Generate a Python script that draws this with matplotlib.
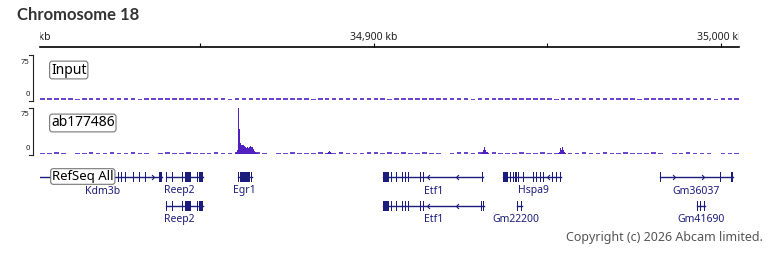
import matplotlib.pyplot as plt
from matplotlib.patches import Rectangle
import numpy as np

plt.rcParams['font.family'] = ['Noto Sans', 'DejaVu Sans']

# view window (kb) and ruler ticks
view_kb = (34803.9, 35005.3)
tick_kb = [34800, 34850, 34900, 34950, 35000]
label_ticks_kb = [34800, 34900, 35000]

# background signal, 2 kb bins from 34804 kb
bg_start_kb = 34804.0
bg_bin_kb = 2.0
input_bg = [3, 3, 4, 3, 3, 2, 3, 4, 3, 3, 3, 4, 3, 3, 2, 3, 3, 4, 3, 3,
            4, 3, 3, 3, 4, 3, 3, 2, 3, 3, 3, 4, 3, 3, 3, 4, 3, 3, 3, 2,
            3, 3, 4, 3, 3, 3, 3, 4, 3, 3, 2, 3, 3, 4, 3, 3, 3, 3, 4, 3,
            3, 3, 2, 3, 4, 3, 3, 3, 3, 4, 3, 3, 3, 3, 2, 3, 3, 4, 3, 3,
            3, 4, 3, 3, 3, 3, 2, 3, 3, 4, 3, 3, 3, 4, 3, 3, 3, 2, 3, 3, 3]
ab_bg = [2, 2, 3, 2, 0, 2, 2, 3, 2, 2, 3, 2, 2, 3, 2, 2, 0, 2, 3, 2,
         2, 3, 2, 2, 2, 3, 2, 2, 3, 2, 2, 3, 2, 0, 2, 2, 3, 2, 2, 2,
         3, 2, 2, 3, 2, 2, 2, 3, 3, 2, 3, 2, 3, 2, 2, 3, 2, 2, 0, 2,
         3, 3, 2, 3, 2, 3, 2, 2, 2, 3, 2, 2, 3, 2, 2, 0, 2, 2, 3, 2,
         2, 3, 2, 2, 3, 2, 2, 2, 3, 2, 0, 2, 2, 3, 2, 2, 2, 0, 2, 2, 2]

# ab177486 peaks, 0.29 kb bins
peak_bin_kb = 0.29
peak_starts_kb = [34860.1, 34886.6, 34931.0, 34953.2]
peak_values = [
    [2, 3, 6, 75, 40, 18, 15, 14, 15, 13, 11, 10, 11, 9, 12, 13, 12, 11, 8, 5, 3, 2, 2],
    [2, 3, 5, 3, 2],
    [2, 3, 6, 12, 7, 4, 3, 2],
    [2, 4, 9, 6, 11, 7, 4, 2],
]

# RefSeq genes
gene_names = ['Kdm3b', 'Reep2', 'Egr1', 'Etf1', 'Hspa9', 'Gm36037',
              'Reep2', 'Etf1', 'Gm22200', 'Gm41690']
gene_rows = [0, 0, 0, 0, 0, 0, 1, 1, 1, 1]
gene_starts = [34790.0, 34840.2, 34860.95, 34902.7, 34937.3, 34982.6,
               34840.2, 34902.7, 34941.3, 34993.3]
gene_ends = [34839.0, 34850.9, 34865.0, 34931.6, 34954.1, 35003.6,
             34850.9, 34931.8, 34942.8, 34995.5]
gene_strands = ['+', '+', '+', '-', '-', '+', '+', '-', '-', '+']
reep2_exons = [(34840.2, 34840.5), (34841.9, 34842.2), (34844.9, 34845.2),
               (34845.7, 34847.3), (34849.0, 34849.3), (34849.7, 34850.9)]
etf1_exons = [(34902.7, 34904.4), (34905.0, 34905.3), (34906.5, 34906.8),
              (34908.2, 34908.5), (34909.0, 34909.3), (34909.9, 34910.2),
              (34913.4, 34913.7), (34914.2, 34914.5)]
gene_exons = [
    [(34826.4, 34826.7), (34827.2, 34827.5), (34828.4, 34828.7), (34830.7, 34831.0),
     (34832.4, 34832.7), (34834.1, 34834.4), (34838.2, 34839.0)],
    reep2_exons,
    [(34860.95, 34861.25), (34861.6, 34864.4), (34864.7, 34865.0)],
    etf1_exons + [(34931.3, 34931.6)],
    [(34937.3, 34938.8), (34939.3, 34939.6), (34940.1, 34940.4), (34940.9, 34941.2),
     (34941.6, 34941.9), (34943.0, 34943.3), (34945.9, 34946.2), (34946.8, 34947.1),
     (34948.0, 34948.3), (34948.8, 34949.1), (34951.4, 34951.7), (34952.6, 34952.9),
     (34953.8, 34954.1)],
    [(34982.6, 34982.9), (34999.9, 35000.2), (35003.0, 35003.6)],
    reep2_exons,
    etf1_exons + [(34931.0, 34931.2), (34931.6, 34931.8)],
    [(34941.3, 34941.5), (34942.6, 34942.8)],
    [(34993.3, 34993.6), (34994.0, 34994.3), (34995.2, 34995.5)],
]
label_kb = [34821.8, 34843.9, 34862.9, 34917.2, 34946.0, 34992.9,
            34843.9, 34917.2, 34941.0, 34994.4]

W, H = 768, 256
sig_color = '#5020c0'
noise_color = '#6a46cc'
gene_color = '#1c1c7c'

fig = plt.figure(figsize=(W / 100, H / 100), dpi=100)


def px_axes(x0, y0, x1, y1):
    return fig.add_axes([x0 / W, 1 - y1 / H, (x1 - x0) / W, (y1 - y0) / H])


def fx(x):
    return x / W


def fy(y):
    return 1 - y / H


fig.text(fx(17), fy(15), 'Chromosome 18', fontsize=12, fontweight='bold',
         family=['Lato', 'DejaVu Sans'], color='#333333', va='center', ha='left')

# ruler
ax = px_axes(40, 28, 739, 46.5)
ax.set_xticks(tick_kb)
ax.set_xlim(*view_kb)
ax.set_ylim(0, 1)
for s in ['top', 'left', 'right']:
    ax.spines[s].set_visible(False)
ax.spines['bottom'].set_linewidth(1.2)
ax.tick_params(axis='x', direction='in', length=3, width=0.8, labelbottom=False)
ax.set_yticks([])
ax.patch.set_alpha(0)
for kb in label_ticks_kb:
    ax.text(kb, 0.5, f'{kb:,} kb', ha='center', va='center', fontsize=7.5,
            color='#222222', clip_on=True)


def signal_track(y0, y1, bg, peaks, label):
    ax = px_axes(40, y0, 739, y1)
    ax.set_xlim(*view_kb)
    ax.set_ylim(0, 75)
    ax.axis('off')
    xs = bg_start_kb + bg_bin_kb * np.arange(len(bg))
    ax.bar(xs, bg, width=bg_bin_kb * 0.65, align='edge', color=noise_color,
           edgecolor='none')
    for start, vals in peaks:
        px = start + peak_bin_kb * np.arange(len(vals))
        ax.bar(px, vals, width=peak_bin_kb, align='edge', color=sig_color,
               edgecolor='none')
    # scale bracket
    fig.add_artist(plt.Line2D([fx(33), fx(33)], [fy(y0), fy(y1 + 1)], color='#222222', lw=0.8))
    fig.add_artist(plt.Line2D([fx(29), fx(33)], [fy(y0), fy(y0)], color='#222222', lw=0.8))
    fig.add_artist(plt.Line2D([fx(29), fx(33)], [fy(y1 + 1), fy(y1 + 1)], color='#222222', lw=0.8))
    fig.text(fx(29.5), fy(y0 + 7), '75', fontsize=5.5, ha='right', va='center', color='#222222')
    fig.text(fx(29.5), fy(y1 - 5), '0', fontsize=5.5, ha='right', va='center', color='#222222')
    fig.text(fx(51), fy(y0 + 15), label, fontsize=10, ha='left', va='center', color='black',
             bbox=dict(boxstyle='round,pad=0.1,rounding_size=0.2', fc='white', ec='#777777', lw=0.8))


signal_track(55, 100, input_bg, [], 'Input')
signal_track(108, 154, ab_bg, list(zip(peak_starts_kb, peak_values)), 'ab177486')

# genes
ax = px_axes(40, 160, 739, 230)
ax.set_xlim(*view_kb)
ax.set_ylim(230, 160)
ax.axis('off')
row_y = [177, 205.5]
chevron_right = [(-1, 1), (0, 0), (-1, -1)]
chevron_left = [(1, 1), (0, 0), (1, -1)]
for name, row, s, e, strand, exons, lk in zip(gene_names, gene_rows, gene_starts, gene_ends,
                                             gene_strands, gene_exons, label_kb):
    yc = row_y[row]
    ax.plot([s, e], [yc, yc], color=gene_color, lw=1)
    for a, b in exons:
        ax.add_patch(Rectangle((a, yc - 5), max(b - a, 0.3), 10, color=gene_color, lw=0))
    arrows = np.arange(s + 4.2, e - 1, 8.5)
    arrows = [a for a in arrows if not any(x0 - 0.6 <= a <= x1 + 0.6 for x0, x1 in exons)]
    ax.plot(arrows, [yc] * len(arrows), ls='none',
            marker=chevron_right if strand == '+' else chevron_left,
            ms=3.5, mfc='none', mew=0.8, color=gene_color)
    ax.text(lk, yc + 14, name, fontsize=7.5, ha='center', va='center', color=gene_color)

fig.text(fx(52), fy(176.5), 'RefSeq All', fontsize=9.5, ha='left', va='center', color='black',
         bbox=dict(boxstyle='round,pad=0.1,rounding_size=0.2', fc='white', ec='#777777', lw=0.8))

fig.text(fx(763), fy(238), 'Copyright (c) 2026 Abcam limited.', fontsize=9,
         ha='right', va='center', color='#555555')

fig.savefig('out.png', dpi=100)
